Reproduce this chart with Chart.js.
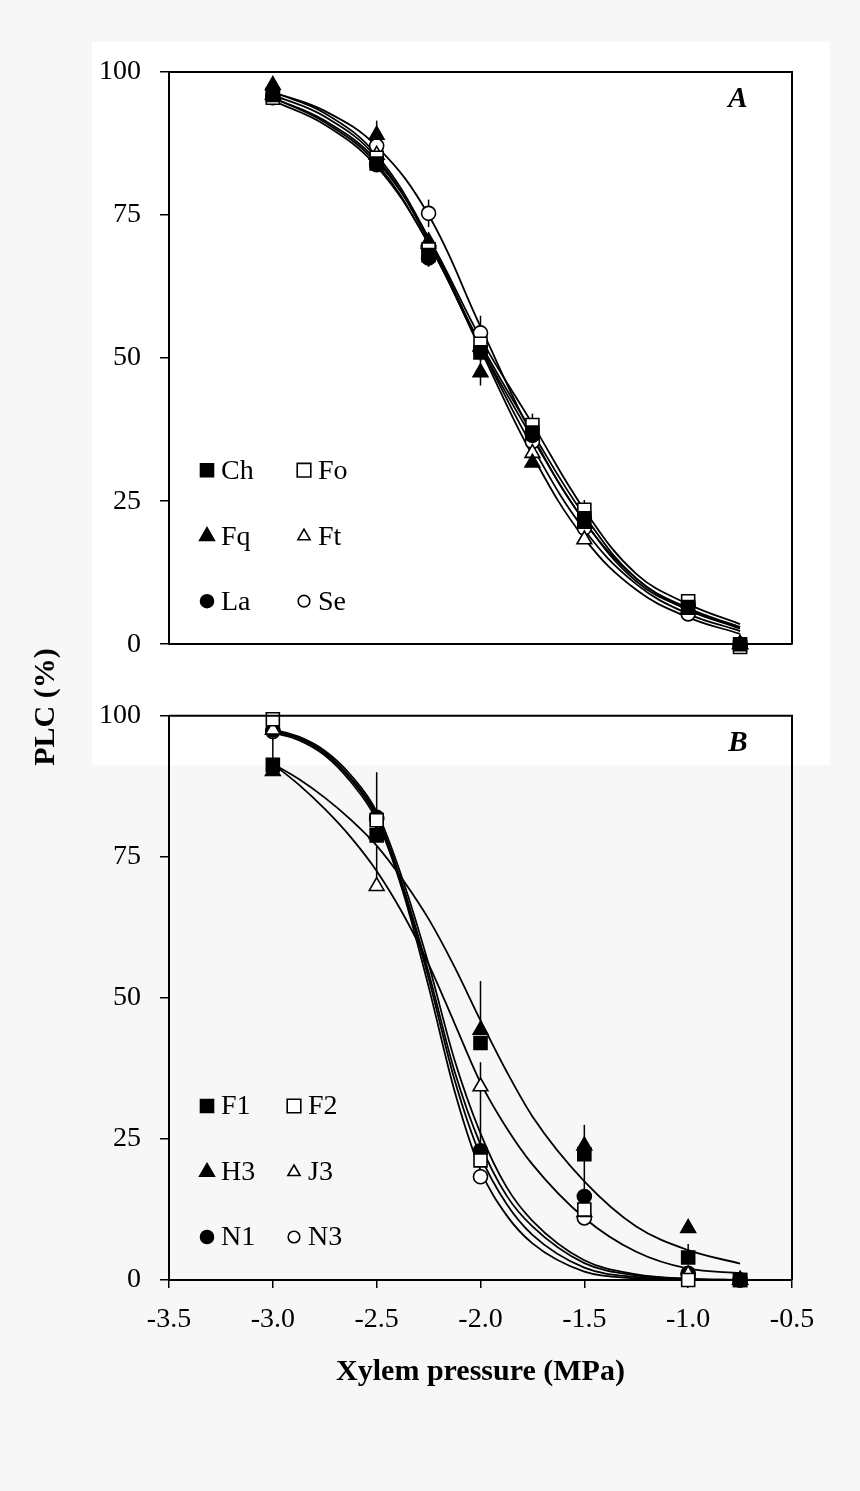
<!DOCTYPE html>
<html>
<head>
<meta charset="utf-8">
<script src="https://cdn.jsdelivr.net/npm/chart.js@4.4.1/dist/chart.umd.min.js"></script>
<style>
  body { margin: 0; background: #f7f7f7; }
  #page { position: relative; width: 860px; height: 1491px; background: #f7f7f7; overflow: hidden; }
  #sheet { position: absolute; left: 92px; top: 42px; width: 738px; height: 723px; background: #fff; }
  canvas { position: absolute; left: 0; }
  #ytitle {
    position: absolute; left: -55px; top: 689px; width: 200px; height: 36px; line-height: 36px;
    text-align: center; transform: rotate(-90deg);
    font: bold 30px "Liberation Serif", "Times New Roman", serif; color: #000;
  }
</style>
</head>
<body>
<div id="page">
  <div id="sheet"></div>
  <canvas id="chartA" width="860" height="680" style="top:0;width:860px;height:680px"></canvas>
  <canvas id="chartB" width="860" height="811" style="top:680px;width:860px;height:811px"></canvas>
  <div id="ytitle">PLC (%)</div>
</div>
<script>
// ---- panel A: measured points ----
const xA = [-3, -2.5, -2.25, -2, -1.75, -1.5, -1, -0.75];
const chA = [96, 84, 68, 51, 37, 22, 6.5, 0];
const foA = [95.5, 85, 69, 52.5, 38.3, 23.5, 7.5, -0.5];
const fqA = [97.7, 89, 70, 47.5, 31.7, 21, 6, 0];
const ftA = [96, 85.5, 70.4, 52, 33.4, 18.3, 6, 0];
const laA = [95.5, 83.8, 67.5, 51.3, 36.5, 22, 6.8, 0];
const seA = [95.7, 87.1, 75.3, 54.4, 35.4, 20.3, 5.3, -0.3];

// error bars (SE), panel A - drawn both ways
const chErrA = [null, null, 2, 1.5, null, null, null, null];
const foErrA = [null, null, null, null, 2, 1.7, 1, null];
const fqErrA = [null, 2.5, null, 2.3, null, null, null, null];
const ftErrA = [null, null, null, null, null, null, null, null];
const laErrA = [null, null, 1.5, null, null, null, null, null];
const seErrA = [null, null, 2.4, 3, null, null, null, null];

// fitted curves, panel A
const fitXA = [-3, -2.75, -2.5, -2.25, -2, -1.75, -1.5, -1.25, -1, -0.75];
const chFitA = [95.5, 91.2, 84, 70, 52.5, 37, 22.5, 11.5, 6.3, 3];
const foFitA = [95.5, 91.5, 84.5, 71, 53.5, 38.5, 23.5, 12.3, 7, 3.5];
const fqFitA = [96.5, 92.8, 85.5, 71, 52, 34.5, 20, 10.5, 5.3, 2.3];
const ftFitA = [96, 92.2, 85, 70.5, 51.5, 33, 18.5, 9.5, 4.7, 1.8];
const laFitA = [95, 90.8, 83.5, 70, 52, 36, 21.5, 11, 6, 2.7];
const seFitA = [96.5, 93.2, 87, 75, 55.5, 36.5, 21.5, 11.5, 6, 3];

// ---- panel B: measured points ----
const xB = [-3, -2.5, -2, -1.5, -1, -0.75];
const f1B = [91.3, 78.8, 42, 22.3, 4, 0];
const f2B = [99.4, 81.5, 21.2, 12.5, 0, 0];
const h3B = [90.2, 79, 44.3, 23.8, 9.2, 0];
const j3B = [97.5, 69.8, 34.3, 12, 1, 0];
const n1B = [97.5, 82, 22.9, 14.8, 1, 0];
const n3B = [97.2, 81.7, 18.3, 11, 1.2, 0];

// error bars (SE), panel B - upper half only
const f1ErrB = [4.7, null, null, null, 2.4, null];
const f2ErrB = [null, null, null, null, null, null];
const h3ErrB = [null, null, 8.7, 3.7, null, null];
const j3ErrB = [null, 7, 4.3, null, null, null];
const n1ErrB = [null, null, 11, 6.5, null, null];
const n3ErrB = [null, 8.3, null, null, null, null];

// fitted curves, panel B
const fitXB = [-3, -2.875, -2.75, -2.625, -2.5, -2.375, -2.25, -2.125, -2, -1.875, -1.75, -1.5, -1.25, -1, -0.75];
const f1FitB = [97.6, 96.3, 93.8, 89.5, 83, 71, 56, 39, 26, 16.5, 10.5, 3.5, 1, 0.2, 0];
const f2FitB = [97.2, 96, 93.3, 88.8, 82, 69.5, 53.5, 35.5, 22, 13.5, 8, 2.2, 0.5, 0.1, 0];
const h3FitB = [91.5, 88.8, 85.5, 81.6, 77, 71, 64, 55.5, 46, 37, 29, 17.5, 9.5, 5.3, 2.9];
const j3FitB = [91.5, 87.8, 83.5, 78.5, 72.5, 65, 56, 45.5, 35, 27, 20.5, 11, 5, 2, 1.2];
const n1FitB = [97.4, 96.1, 93.5, 89, 82.5, 70, 54.5, 37, 24, 15, 9.5, 3, 0.8, 0.2, 0];
const n3FitB = [97, 95.7, 93, 88.3, 81.5, 69, 52, 33.5, 19.5, 11.5, 6.5, 1.5, 0.3, 0, 0];

const xTicks = [-3.5, -3.0, -2.5, -2.0, -1.5, -1.0, -0.5];
const yTicks = [0, 25, 50, 75, 100];

const seriesA = [
  { label: 'Ch', style: 'rect', filled: true, y: chA, err: chErrA, fit: chFitA },
  { label: 'Fo', style: 'rect', filled: false, y: foA, err: foErrA, fit: foFitA },
  { label: 'Fq', style: 'triangle', filled: true, y: fqA, err: fqErrA, fit: fqFitA },
  { label: 'Ft', style: 'triangle', filled: false, y: ftA, err: ftErrA, fit: ftFitA },
  { label: 'La', style: 'circle', filled: true, y: laA, err: laErrA, fit: laFitA },
  { label: 'Se', style: 'circle', filled: false, y: seA, err: seErrA, fit: seFitA }
];
const seriesB = [
  { label: 'F1', style: 'rect', filled: true, y: f1B, err: f1ErrB, fit: f1FitB },
  { label: 'F2', style: 'rect', filled: false, y: f2B, err: f2ErrB, fit: f2FitB },
  { label: 'H3', style: 'triangle', filled: true, y: h3B, err: h3ErrB, fit: h3FitB },
  { label: 'J3', style: 'triangle', filled: false, y: j3B, err: j3ErrB, fit: j3FitB },
  { label: 'N1', style: 'circle', filled: true, y: n1B, err: n1ErrB, fit: n1FitB },
  { label: 'N3', style: 'circle', filled: false, y: n3B, err: n3ErrB, fit: n3FitB }
];

const SERIF = '"Liberation Serif", "Times New Roman", serif';
const radius = { rect: 9.2, triangle: 8.5, circle: 7 };

function drawMark(ctx, style, filled, x, y, r) {
  ctx.beginPath();
  if (style === 'rect') {
    const s = r * Math.SQRT1_2;
    ctx.rect(x - s, y - s, 2 * s, 2 * s);
  } else if (style === 'triangle') {
    ctx.moveTo(x, y - r);
    ctx.lineTo(x + r * 0.866, y + r / 2);
    ctx.lineTo(x - r * 0.866, y + r / 2);
    ctx.closePath();
  } else {
    ctx.arc(x, y, r, 0, Math.PI * 2);
  }
  ctx.lineWidth = 1.6;
  ctx.strokeStyle = '#000';
  ctx.fillStyle = filled ? '#000' : '#fff';
  ctx.fill();
  ctx.stroke();
}

const panelPlugin = {
  id: 'panelExtras',
  beforeDatasetsDraw(chart) {
    const { ctx, scales: { x, y } } = chart;
    const { xs, series, bothWays } = chart.options.plugins.panelExtras;
    ctx.save();
    ctx.strokeStyle = '#000';
    ctx.lineWidth = 1.5;
    series.forEach(s => {
      s.err.forEach((e, i) => {
        if (e == null) return;
        const px = x.getPixelForValue(xs[i]);
        ctx.beginPath();
        ctx.moveTo(px, y.getPixelForValue(s.y[i] + e));
        ctx.lineTo(px, y.getPixelForValue(bothWays ? s.y[i] - e : s.y[i]));
        ctx.stroke();
      });
    });
    ctx.restore();
  },
  afterDraw(chart) {
    const { ctx, chartArea: a } = chart;
    const opts = chart.options.plugins.panelExtras;
    ctx.save();
    // top and right frame
    ctx.strokeStyle = '#000';
    ctx.lineWidth = 2;
    ctx.beginPath();
    ctx.moveTo(a.left, a.top);
    ctx.lineTo(a.right, a.top);
    ctx.lineTo(a.right, a.bottom);
    ctx.stroke();

    // panel letter
    ctx.fillStyle = '#000';
    ctx.font = 'italic bold 29px ' + SERIF;
    ctx.textAlign = 'center';
    ctx.textBaseline = 'middle';
    ctx.fillText(opts.letter, a.right - 54, a.top + 28);

    // legend, two columns x three rows
    ctx.font = '28px ' + SERIF;
    ctx.textAlign = 'left';
    const rows = [a.bottom - 174, a.bottom - 108, a.bottom - 43];
    opts.series.forEach((s, i) => {
      const col = i % 2, row = Math.floor(i / 2);
      const mx = a.left + (col === 0 ? 38 : opts.col2);
      const my = rows[row];
      let r = radius[s.style];
      if (!s.filled) r = s.style === 'rect' ? 9.6 : s.style === 'triangle' ? 7 : 5.8;
      else if (s.style === 'circle') r = 6.5;
      drawMark(ctx, s.style, s.filled, mx, my, r);
      ctx.fillStyle = '#000';
      ctx.fillText(s.label, mx + 14, my + 1);
    });
    ctx.restore();
  }
};

function buildDatasets(xs, series, fitXs, smooth) {
  const lines = series.map(s => ({
    label: s.label + ' fit',
    data: fitXs.map((v, i) => ({ x: v, y: s.fit[i] })),
    showLine: true,
    pointRadius: 0,
    borderColor: '#000',
    borderWidth: 1.8,
    tension: 0.4,
    cubicInterpolationMode: smooth,
    order: 5
  }));
  const points = series.map(s => ({
    label: s.label,
    data: xs.map((v, i) => ({ x: v, y: s.y[i] })),
    showLine: false,
    pointStyle: s.style,
    pointRadius: s.style === 'circle' ? 7 : radius[s.style],
    pointBackgroundColor: s.filled ? '#000' : '#fff',
    pointBorderColor: '#000',
    pointBorderWidth: 1.6,
    clip: false,
    order: 0
  }));
  return lines.concat(points);
}

function makePanel(id, xs, series, fitXs, cfg) {
  new Chart(document.getElementById(id), {
    type: 'scatter',
    data: { datasets: buildDatasets(xs, series, fitXs, cfg.smooth) },
    plugins: [panelPlugin],
    options: {
      responsive: false,
      animation: false,
      events: [],
      layout: { padding: { left: 0, right: 68, top: cfg.top, bottom: 0 } },
      plugins: {
        legend: { display: false },
        tooltip: { enabled: false },
        panelExtras: { xs: xs, series: series, letter: cfg.letter, col2: cfg.col2, bothWays: cfg.bothWays }
      },
      scales: {
        x: {
          type: 'linear',
          min: xTicks[0],
          max: xTicks[xTicks.length - 1],
          afterFit: s => { s.height = cfg.xHeight; },
          afterBuildTicks: s => { s.ticks = xTicks.map(v => ({ value: v })); },
          ticks: {
            display: cfg.showX,
            color: '#000',
            padding: 15,
            maxRotation: 0,
            autoSkip: false,
            font: { family: SERIF, size: 28 },
            callback: v => v.toFixed(1)
          },
          grid: { display: cfg.showX, drawOnChartArea: false, tickLength: 8, color: '#000', lineWidth: 1.5 },
          border: { display: true, color: '#000', width: 2 },
          title: {
            display: cfg.showX,
            text: 'Xylem pressure (MPa)',
            color: '#000',
            font: { family: SERIF, size: 30, weight: 'bold' },
            padding: { top: 0, bottom: 101 }
          }
        },
        y: {
          min: 0,
          max: 100,
          afterFit: s => { s.width = 169; },
          afterBuildTicks: s => { s.ticks = yTicks.map(v => ({ value: v })); },
          ticks: { color: '#000', padding: 19, font: { family: SERIF, size: 28 } },
          grid: { drawOnChartArea: false, tickLength: 9, color: '#000', lineWidth: 1.5 },
          border: { display: true, color: '#000', width: 2 }
        }
      }
    }
  });
}

makePanel('chartA', xA, seriesA, fitXA, { top: 72, xHeight: 33, showX: false, letter: 'A', col2: 135, bothWays: true, smooth: 'default' });
makePanel('chartB', xB, seriesB, fitXB, { top: 25, xHeight: 211, showX: true, letter: 'B', col2: 125, bothWays: false, smooth: 'monotone' });
</script>
</body>
</html>
